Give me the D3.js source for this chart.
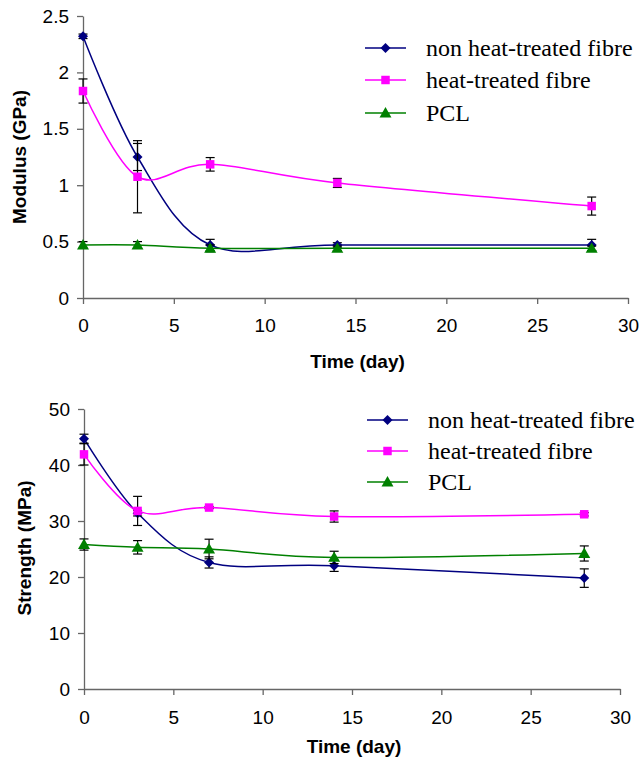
<!DOCTYPE html>
<html>
<head>
<meta charset="utf-8">
<script src="https://cdn.jsdelivr.net/npm/d3@7"></script>
<style>
  body { margin: 0; background: #fff; }
  svg { display: block; }
</style>
</head>
<body>
<svg width="639" height="760"></svg>
<script>
//-- data --//
const days = [0, 3, 7, 14, 28];
const seriesNames = ["non heat-treated fibre", "heat-treated fibre", "PCL"];

// modulus (GPa)
const modNonHeat = [2.32, 1.25, 0.47, 0.47, 0.47];
const modNonHeatErr = [0.02, 0.12, 0.05, 0.02, 0.05];
const modHeat = [1.835, 1.075, 1.185, 1.02, 0.815];
const modHeatErr = [0.107, 0.32, 0.06, 0.04, 0.08];
const modPCL = [0.47, 0.47, 0.44, 0.44, 0.44];
const modPCLErr = [0.03, 0.03, 0.03, 0.02, 0.02];

// strength (MPa)
const strNonHeat = [44.7, 31.4, 22.6, 22.0, 19.8];
const strNonHeatErr = [0.8, 0.5, 1.0, 1.0, 1.65];
const strHeat = [41.9, 31.8, 32.4, 30.8, 31.2];
const strHeatErr = [1.9, 2.6, 0.2, 1.0, 0.3];
const strPCL = [25.8, 25.3, 25.0, 23.5, 24.2];
const strPCLErr = [1.0, 1.2, 1.75, 1.1, 1.35];

const xTicks = [0, 5, 10, 15, 20, 25, 30];
const modTicks = [0, 0.5, 1, 1.5, 2, 2.5];
const strTicks = [0, 10, 20, 30, 40, 50];

const colors = ["#000080", "#ff00ff", "#008000"];
// diamond = square turned 45 degrees
const shapes = [d3.symbolSquare, d3.symbolSquare, d3.symbolTriangle];
const shapeSizes = [50, 72, 62];
const shapeRot = [45, 0, 0];
const shapeDy = [0, 0, 1];

const svg = d3.select("svg");
const sans = "Arial, 'Liberation Sans', sans-serif";
const serif = "'Times New Roman', 'Liberation Serif', serif";

function marker(sel, s, cx, cy) {
  sel.append("path")
    .attr("transform", `translate(${cx},${cy + shapeDy[s]}) rotate(${shapeRot[s]})`)
    .attr("d", d3.symbol(shapes[s], shapeSizes[s]))
    .attr("fill", colors[s]);
}

function chart(opt) {
  const x = d3.scaleLinear().domain([0, 30]).range(opt.xr);
  const y = d3.scaleLinear().domain(opt.yd).range(opt.yr);
  const g = svg.append("g");

  // axes
  g.append("g")
    .attr("transform", `translate(0,${opt.yr[0]})`)
    .call(d3.axisBottom(x).tickValues(xTicks).tickSize(6).tickPadding(opt.xPad).tickSizeOuter(0))
    .call(a => a.selectAll("text").attr("font-size", 19).attr("font-family", sans).attr("fill", "#000"));
  g.append("g")
    .attr("transform", `translate(${opt.xr[0]},0)`)
    .call(d3.axisLeft(y).tickValues(opt.yTicks).tickSize(6).tickPadding(8).tickSizeOuter(0)
      .tickFormat(d => String(d)))
    .call(a => a.selectAll("text").attr("font-size", 19).attr("font-family", sans).attr("fill", "#000"));
  g.selectAll(".domain, .tick line").attr("stroke", "#666").attr("stroke-width", 1.3);

  // axis titles
  g.append("text")
    .attr("x", (opt.xr[0] + opt.xr[1]) / 2 + 2)
    .attr("y", opt.xTitleY)
    .attr("text-anchor", "middle")
    .attr("font-family", sans).attr("font-weight", "bold").attr("font-size", 19)
    .text("Time (day)");
  g.append("text")
    .attr("transform", `translate(${opt.yTitleX},${opt.yTitleY}) rotate(-90)`)
    .attr("text-anchor", "middle")
    .attr("font-family", sans).attr("font-weight", "bold").attr("font-size", 19)
    .text(opt.yTitle);

  const line = d3.line()
    .x((d, i) => x(days[i]))
    .y(d => y(d))
    .curve(d3.curveCardinal.tension(0));

  opt.series.forEach((vals, s) => {
    const sg = g.append("g");
    sg.append("path")
      .attr("d", line(vals))
      .attr("fill", "none")
      .attr("stroke", colors[s])
      .attr("stroke-width", 1.5);

    const pts = vals.map((v, i) => ({day: days[i], v, e: opt.errs[s][i]}));
    const eb = sg.selectAll(".err").data(pts).join("g").attr("stroke", "#000").attr("stroke-width", 1.2);
    eb.append("line")
      .attr("x1", d => x(d.day)).attr("x2", d => x(d.day))
      .attr("y1", d => y(d.v - d.e)).attr("y2", d => y(d.v + d.e));
    eb.append("line")
      .attr("x1", d => x(d.day) - 4.5).attr("x2", d => x(d.day) + 4.5)
      .attr("y1", d => y(d.v + d.e)).attr("y2", d => y(d.v + d.e));
    eb.append("line")
      .attr("x1", d => x(d.day) - 4.5).attr("x2", d => x(d.day) + 4.5)
      .attr("y1", d => y(d.v - d.e)).attr("y2", d => y(d.v - d.e));

    pts.forEach(d => marker(sg, s, x(d.day), y(d.v)));
  });

  // legend
  const lg = g.append("g");
  seriesNames.forEach((name, s) => {
    const ly = opt.legY[s];
    lg.append("line")
      .attr("x1", opt.legX).attr("x2", opt.legX + 41)
      .attr("y1", ly).attr("y2", ly)
      .attr("stroke", colors[s]).attr("stroke-width", 1.5);
    marker(lg, s, opt.legX + 20.5, ly);
    lg.append("text")
      .attr("x", opt.legX + 61).attr("y", ly)
      .attr("dy", "0.33em")
      .attr("font-family", serif).attr("font-size", 24)
      .text(name);
  });
}

chart({
  xr: [83, 628], yr: [298, 16], yd: [0, 2.5], yTicks: modTicks,
  xPad: 15, xTitleY: 368, yTitleX: 26, yTitleY: 157, yTitle: "Modulus (GPa)",
  series: [modNonHeat, modHeat, modPCL], errs: [modNonHeatErr, modHeatErr, modPCLErr],
  legX: 365, legY: [48, 80, 113]
});

chart({
  xr: [84, 620], yr: [689, 409], yd: [0, 50], yTicks: strTicks,
  xPad: 16, xTitleY: 753, yTitleX: 31, yTitleY: 548, yTitle: "Strength (MPa)",
  series: [strNonHeat, strHeat, strPCL], errs: [strNonHeatErr, strHeatErr, strPCLErr],
  legX: 367, legY: [420, 451, 482]
});
</script>
</body>
</html>
